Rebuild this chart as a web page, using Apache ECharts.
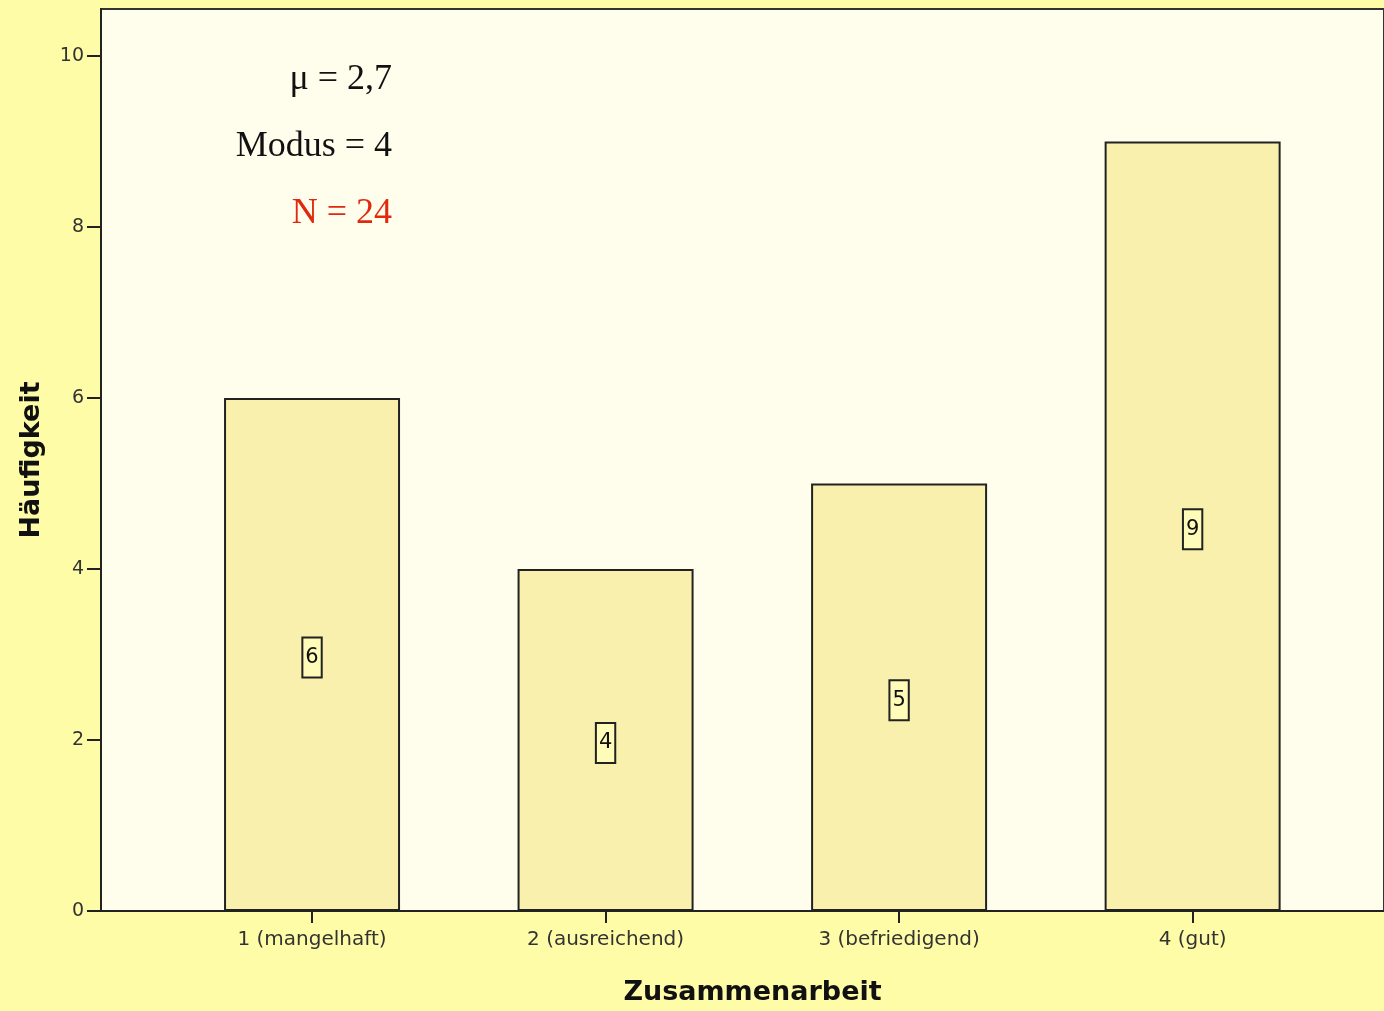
<!DOCTYPE html>
<html lang="de">
<head>
    <meta charset="UTF-8">
    <title>Zusammenarbeit</title>
    <script type="text/javascript" src="https://cdn.jsdelivr.net/npm/echarts@6/dist/echarts.min.js"></script>
    <style>
        html, body { margin: 0; padding: 0; background: #FFFCA8; }
    </style>
</head>
<body>
    <div id="main" style="width: 1384px;height:1011px;"></div>
    <script type="text/javascript">
        // Daten
        var categories = ['1 (mangelhaft)', '2 (ausreichend)', '3 (befriedigend)', '4 (gut)'];
        var positions = [1, 2, 3, 4];
        var counts = [6, 4, 5, 9];
        var yTicks = [0, 2, 4, 6, 8, 10];
        var statsLines = ['\u03bc = 2,7', 'Modus = 4', 'N = 24'];

        var myChart = echarts.init(document.getElementById('main'));

        var barData = positions.map(function (p, i) { return [p, counts[i]]; });

        var option = {
            backgroundColor: '#FFFCA8',
            animation: false,
            grid: {
                left: 101,
                right: -2,
                top: 9,
                bottom: 97,
                show: true,
                backgroundColor: '#FFFEEC',
                borderColor: '#333',
                borderWidth: 2
            },
            xAxis: {
                type: 'value',
                min: 0.281,
                max: 4.652,
                name: 'Zusammenarbeit',
                nameLocation: 'middle',
                nameGap: 68,
                nameTextStyle: { fontFamily: 'DejaVu Sans', fontWeight: 'bold', fontSize: 27, color: '#111', padding: [0, 0, 0, 20] },
                splitLine: { show: false },
                axisLine: { show: true, onZero: false, lineStyle: { color: '#222', width: 2 } },
                axisTick: { show: true, customValues: positions, length: 12, lineStyle: { color: '#222', width: 2 } },
                axisLabel: {
                    customValues: positions,
                    margin: 19,
                    fontFamily: 'DejaVu Sans',
                    fontSize: 20,
                    color: '#333',
                    formatter: function (v) { return categories[Math.round(v) - 1]; }
                }
            },
            yAxis: {
                type: 'value',
                min: 0,
                max: 10.55,
                interval: 2,
                name: 'Häufigkeit',
                nameLocation: 'middle',
                nameGap: 56,
                nameTextStyle: { fontFamily: 'DejaVu Sans', fontWeight: 'bold', fontSize: 27, color: '#111' },
                splitLine: { show: false },
                axisLine: { show: true, lineStyle: { color: '#222', width: 2 } },
                axisTick: { show: true, customValues: yTicks, length: 14, lineStyle: { color: '#222', width: 2 } },
                axisLabel: {
                    customValues: yTicks,
                    margin: 17,
                    fontFamily: 'DejaVu Sans',
                    fontSize: 19,
                    color: '#333'
                }
            },
            graphic: statsLines.map(function (t, i) {
                return {
                    type: 'text',
                    right: 1384 - 392,
                    top: 62 + i * 67,
                    style: {
                        text: t,
                        fontFamily: 'Liberation Serif',
                        fontSize: 36,
                        fill: i === 2 ? '#E02A10' : '#111',
                        textAlign: 'right'
                    }
                };
            }),
            series: [{
                type: 'bar',
                data: barData,
                barWidth: 176,
                itemStyle: {
                    color: '#F9F0AE',
                    borderColor: '#222',
                    borderWidth: 2
                },
                label: {
                    show: true,
                    position: 'inside',
                    offset: [0, 3],
                    formatter: function (p) { return p.value[1]; },
                    fontFamily: 'DejaVu Sans',
                    fontSize: 21,
                    color: '#111',
                    backgroundColor: '#FFFBB8',
                    borderColor: '#222',
                    borderWidth: 2,
                    padding: [10, 2, 7, 2]
                }
            }]
        };

        myChart.setOption(option);
    </script>
</body>
</html>
